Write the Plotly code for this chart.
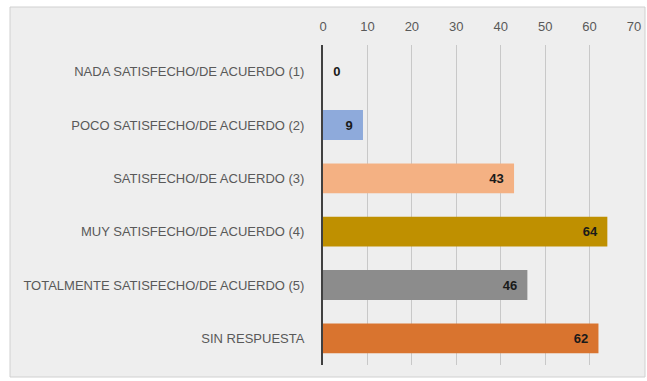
import plotly.graph_objects as go

categories = [
    "NADA SATISFECHO/DE ACUERDO (1)",
    "POCO SATISFECHO/DE ACUERDO (2)",
    "SATISFECHO/DE ACUERDO (3)",
    "MUY SATISFECHO/DE ACUERDO (4)",
    "TOTALMENTE SATISFECHO/DE ACUERDO (5)",
    "SIN RESPUESTA",
]
values = [0, 9, 43, 64, 46, 62]
colors = ["#8eaadb", "#8eaadb", "#f4b183", "#bf9000", "#8c8c8c", "#d9742f"]
tick_vals = [0, 10, 20, 30, 40, 50, 60, 70]

text_pos = ["outside" if v == 0 else "inside" for v in values]
labels = ["\u00a0\u00a0" + str(v) if v == 0 else str(v) + "\u00a0\u00a0" for v in values]

fig = go.Figure()
fig.add_trace(go.Bar(
    y=categories,
    x=values,
    orientation="h",
    marker=dict(color=colors, line=dict(width=0)),
    text=labels,
    textposition=text_pos,
    insidetextanchor="end",
    textfont=dict(family="Liberation Sans, Arial", size=13, color="#1a1a1a", weight="bold"),
    outsidetextfont=dict(family="Liberation Sans, Arial", size=13, color="#1a1a1a", weight="bold"),
    cliponaxis=False,
    width=0.56,
))

L, R, T, B = 323, 13, 45, 16
W, H = 647, 381
pw, ph = W - L - R, H - T - B

def px_x(p):
    return (p - L) / pw

def px_y(p):
    return (H - B - p) / ph

fig.add_shape(type="rect", xref="paper", yref="paper",
              x0=px_x(10), x1=px_x(645), y0=px_y(377), y1=px_y(7),
              fillcolor="#eeeeee", line=dict(color="#d0d0d0", width=1), layer="below")

fig.update_layout(
    width=W, height=H,
    margin=dict(l=L, r=R, t=T, b=B, autoexpand=False),
    paper_bgcolor="white",
    plot_bgcolor="rgba(0,0,0,0)",
    showlegend=False,
    font=dict(family="Liberation Sans, Arial", size=13, color="#595959"),
    xaxis=dict(
        side="top", range=[0, 70], tickvals=tick_vals, automargin=False,
        showgrid=True, gridcolor="#c8c8c8", gridwidth=1,
        zeroline=False, showline=False, ticks="", ticklabelstandoff=10,
        tickfont=dict(size=13, color="#595959"),
    ),
    yaxis=dict(
        categoryorder="array", categoryarray=categories, autorange="reversed",
        automargin=False,
        showline=True, linecolor="#404040", linewidth=2,
        ticks="", ticklabelstandoff=14,
        tickfont=dict(size=13, color="#595959"),
    ),
)

fig.write_html("out.html")
